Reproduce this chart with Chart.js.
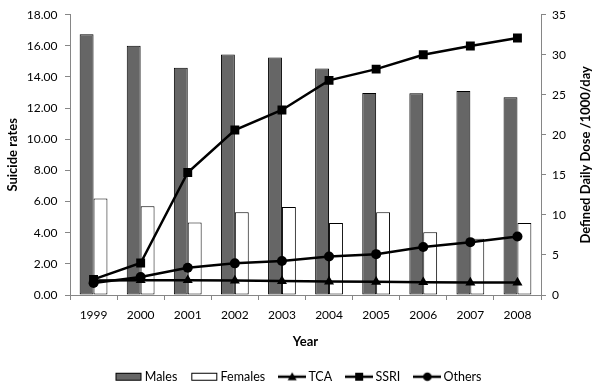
<!DOCTYPE html>
<html>
<head>
<meta charset="utf-8">
<script src="https://cdn.jsdelivr.net/npm/chart.js@4/dist/chart.umd.min.js"></script>
<style>
  html, body { margin: 0; padding: 0; background: #fff; }
  #wrap { width: 600px; height: 389px; position: relative; }
</style>
</head>
<body>
<div id="wrap"><canvas id="c" width="600" height="389"></canvas></div>
<script>
const years = ['1999','2000','2001','2002','2003','2004','2005','2006','2007','2008'];
const males = [16.75, 16.0, 14.6, 15.45, 15.25, 14.55, 12.97, 12.95, 13.1, 12.7];
const females = [6.2, 5.7, 4.66, 5.32, 5.65, 4.62, 5.32, 4.03, 3.62, 4.62];
const tca = [1.8, 1.85, 1.85, 1.8, 1.75, 1.68, 1.65, 1.6, 1.55, 1.55];
const ssri = [1.95, 4.0, 15.3, 20.6, 23.1, 26.8, 28.2, 30.0, 31.1, 32.1];
const others = [1.5, 2.25, 3.4, 3.95, 4.25, 4.8, 5.1, 6.0, 6.6, 7.3];

const FONT = 'Lato, "Open Sans", sans-serif';
const AXIS_GRAY = '#868686';

function makeIcon(kind) {
  const cv = document.createElement('canvas');
  cv.width = 28; cv.height = 12;
  const g = cv.getContext('2d');
  if (kind === 'males' || kind === 'females') {
    g.fillStyle = kind === 'males' ? '#666666' : '#ffffff';
    g.fillRect(1.5, 2.5, 25, 7);
    g.strokeStyle = '#000'; g.lineWidth = 1;
    g.strokeRect(1.5, 2.5, 25, 7);
  } else {
    g.strokeStyle = '#000'; g.lineWidth = 2.5;
    g.beginPath(); g.moveTo(0, 6); g.lineTo(28, 6); g.stroke();
    g.fillStyle = '#000';
    g.beginPath();
    if (kind === 'tca') { g.moveTo(14, 1.5); g.lineTo(18.5, 9.5); g.lineTo(9.5, 9.5); g.closePath(); }
    else if (kind === 'ssri') { g.rect(10, 2, 8, 8); }
    else { g.arc(14, 6, 4.3, 0, Math.PI * 2); }
    g.fill();
  }
  return cv;
}
const icons = [makeIcon('males'), makeIcon('females'), makeIcon('tca'), makeIcon('ssri'), makeIcon('others')];

const layoutFix = {
  id: 'layoutFix',
  beforeLayout(chart) {
    const lg = chart.legend;
    if (lg && !lg._patched) {
      const f = lg.fit.bind(lg);
      lg.fit = function () { f(); this.height = 35.5; };
      lg._patched = true;
    }
  },
  afterDraw(chart) {
    const ctx = chart.ctx;
    const ca = chart.chartArea;
    ctx.save();
    ctx.translate(586, (ca.top + ca.bottom) / 2);
    ctx.rotate(-Math.PI / 2);
    ctx.font = 'bold 13px ' + FONT;
    ctx.fillStyle = '#000';
    ctx.textAlign = 'center';
    ctx.textBaseline = 'middle';
    ctx.fillText('Defined Daily Dose /1000/day', 0, 0);
    ctx.restore();
  }
};

new Chart(document.getElementById('c'), {
  type: 'bar',
  data: {
    labels: years,
    datasets: [
      { type: 'bar', label: 'Males', data: males, yAxisID: 'y', backgroundColor: '#666666', borderColor: '#000', borderWidth: 1, borderSkipped: false, order: 2, categoryPercentage: 0.59, barPercentage: 1 },
      { type: 'bar', label: 'Females', data: females, yAxisID: 'y', backgroundColor: '#ffffff', borderColor: '#000', borderWidth: 1, borderSkipped: false, order: 2, categoryPercentage: 0.59, barPercentage: 1 },
      { type: 'line', label: 'TCA', data: tca, yAxisID: 'y1', borderColor: '#000', backgroundColor: '#000', borderWidth: 2.5, pointStyle: 'triangle', pointRadius: 5.8, pointBorderWidth: 0, tension: 0, order: 1 },
      { type: 'line', label: 'SSRI', data: ssri, yAxisID: 'y1', borderColor: '#000', backgroundColor: '#000', borderWidth: 2.5, pointStyle: 'rect', pointRadius: 6.3, pointBorderWidth: 0, tension: 0, order: 1 },
      { type: 'line', label: 'Others', data: others, yAxisID: 'y1', borderColor: '#000', backgroundColor: '#000', borderWidth: 2.5, pointStyle: 'circle', pointRadius: 5, pointBorderWidth: 0, tension: 0, order: 1 }
    ]
  },
  options: {
    responsive: false,
    animation: false,
    devicePixelRatio: 1,
    layout: { padding: { top: 10, left: 0, right: 0, bottom: 0 } },
    plugins: {
      tooltip: { enabled: false },
      legend: {
        position: 'bottom',
        align: 'center',
        labels: {
          usePointStyle: true,
          pointStyleWidth: 20,
          padding: 17,
          color: '#000',
          font: { family: FONT, size: 12.5 },
          sort: (a, b) => a.datasetIndex - b.datasetIndex,
          generateLabels(chart) {
            return Chart.defaults.plugins.legend.labels.generateLabels(chart).map(l => Object.assign({}, l, { pointStyle: icons[l.datasetIndex], fontColor: '#000' }));
          }
        }
      }
    },
    scales: {
      x: {
        offset: true,
        grid: { display: true, drawOnChartArea: false, offset: true, tickLength: 5, color: AXIS_GRAY },
        border: { color: AXIS_GRAY },
        ticks: { color: '#000', padding: 8, font: { family: FONT, size: 12 }, maxRotation: 0 },
        title: { display: true, text: 'Year', color: '#000', font: { family: FONT, size: 13, weight: 'bold' }, padding: { top: 0, bottom: 3.7 } },
        afterFit(s) { s.height = 58.5; }
      },
      y: {
        position: 'left',
        min: 0, max: 18,
        grid: { display: true, drawOnChartArea: false, tickLength: 5, color: AXIS_GRAY },
        border: { color: AXIS_GRAY },
        ticks: { stepSize: 2, color: '#000', padding: 7.5, font: { family: FONT, size: 12 }, callback: v => Number(v).toFixed(2) },
        title: { display: true, text: 'Suicide rates', color: '#000', font: { family: FONT, size: 13, weight: 'bold' }, padding: { top: 4.7, bottom: 0 } },
        afterFit(s) { s.width = 70; }
      },
      y1: {
        position: 'right',
        min: 0, max: 35,
        grid: { display: true, drawOnChartArea: false, tickLength: 5, color: AXIS_GRAY },
        border: { color: AXIS_GRAY },
        ticks: { stepSize: 5, color: '#000', padding: 6, font: { family: FONT, size: 12 } },
        afterFit(s) { s.width = 59; }
      }
    }
  },
  plugins: [layoutFix]
});
</script>
</body>
</html>
